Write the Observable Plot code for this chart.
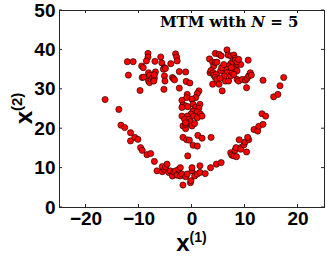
<!DOCTYPE html>
<html>
<head>
<meta charset="utf-8">
<script src="https://cdn.jsdelivr.net/npm/d3@7"></script>
<script src="https://cdn.jsdelivr.net/npm/@observablehq/plot@0.6"></script>
<style>
  html, body { margin: 0; padding: 0; background: #fff; }
  svg { display: block; }
</style>
</head>
<body>
<div id="chart"></div>
<script>
const leftEyeX = [-12.2,-11.1,-12.0,-9.8,-9.5,-9.2,-9.4,-9.1,-8.3,-8.3,-8.6,-8.2,-8.0,-8.2,-8.0,-7.7,-7.4,-7.1,-7.2,-7.0,-6.9,-7.1,-5.9,-5.7,-5.2,-5.4,-5.2,-5.1,-5.3,-5.0,-4.0,-3.7,-3.5,-3.3,-3.1,-2.9,-2.8,-2.4,-2.4,-1.2,-1.1,-0.4];
const leftEyeY = [37.0,37.0,33.6,29.7,35.9,35.5,33.0,33.1,39.1,38.2,37.2,34.2,33.6,32.1,31.7,32.5,32.9,32.8,32.1,37.1,34.4,33.7,38.2,36.7,35.5,35.1,33.4,32.1,30.0,35.3,36.5,33.0,32.7,32.4,39.0,38.2,37.2,34.5,30.3,34.4,32.0,31.6];

const rightEyeX = [3.3,3.9,4.1,4.4,4.7,4.4,5.1,5.5,6.6,6.8,7.3,7.9,8.1,7.7,7.9,8.2,7.3,6.9,6.4,6.6,6.1,6.3,6.9,7.3,7.6,8.2,8.5,8.6,9.2,8.5,8.8,9.5,10.1,10.4,10.6,10.7,11.0,11.2,10.3,13.4,3.4,3.6,4.0,4.1,4.6,4.4,4.7,3.9,5.1,5.7,5.3,5.4,5.6,7.9,7.4,6.0,8.5,8.8];
const rightEyeY = [37.7,36.9,35.9,36.8,36.9,39.1,38.9,38.5,40.0,38.7,38.5,38.7,37.9,37.2,36.3,37.4,36.5,35.9,35.1,34.2,33.4,32.1,32.1,33.4,34.2,35.1,34.7,36.3,36.3,32.5,32.1,32.5,32.3,32.8,37.4,33.4,34.2,33.6,30.4,32.3,34.2,34.8,34.2,33.6,33.8,33.0,32.5,31.3,31.3,29.6,32.8,34.7,35.5,33.8,35.5,36.3,37.0,37.6];

const noseX = [1.3,1.0,0.7,-0.9,-1.0,-1.9,-1.7,-1.2,-0.8,-1.9,0.0,0.2,0.7,1.5,1.3,0.2,1.0,-0.2,0.3,1.3,1.6,1.0,1.9,-0.9,-1.9,-1.4,-0.6,-0.3,-0.9,-1.7,-1.2,0.0,0.5,-1.2,-1.7,-1.0,-0.5,0.2,1.0,1.1,1.9,3.6,-1.2,-0.8];
const noseY = [29.6,28.9,27.9,28.7,27.9,27.2,26.0,25.8,25.6,25.4,27.5,26.2,25.5,26.2,25.2,24.5,24.3,23.7,23.2,23.2,23.7,22.8,23.2,23.2,23.2,22.4,22.4,21.8,21.3,20.7,20.0,20.7,21.3,21.1,17.8,17.2,17.1,15.8,15.6,18.3,17.6,17.8,21.5,13.1];

const mouthX = [-16.4,-13.8,-13.4,-12.7,-11.6,-11.6,-10.8,-10.2,-9.7,-9.4,-8.5,-7.8,-7.1,-6.6,-5.6,-5.3,-5.6,-5.0,-4.7,-4.4,-4.1,-3.7,-3.4,-3.1,-2.8,-2.5,-2.2,-2.2,-1.9,-1.2,-0.9,-0.3,-0.2,-1.7,0.0,0.0,0.5,1.0,1.5,1.5,2.5,3.5,4.6,5.5,7.3,7.7,7.5,7.9,8.4,8.1,8.3,9.2,9.2,8.9,9.8,10.0,10.7,10.5,10.3,11.7,12.4,12.6,13.4,13.2,13.9,15.4,16.2,16.6,17.3];
const mouthY = [27.4,24.9,20.9,20.3,19.0,16.9,17.8,17.3,15.2,14.5,13.4,13.7,11.7,9.3,9.1,9.7,10.4,10.3,11.0,8.9,9.3,8.0,9.0,9.3,8.2,9.7,10.1,8.0,8.5,7.8,8.5,6.3,6.8,5.7,9.3,10.1,8.0,8.5,8.9,10.6,8.6,10.1,11.0,11.4,13.9,13.5,13.3,13.1,12.9,14.5,15.2,15.2,14.8,17.2,15.9,16.6,17.2,17.8,14.1,19.8,19.4,20.6,21.1,23.8,23.2,28.1,28.7,30.9,33.0];

const xTicks = [-20, -10, 0, 10, 20];
const yTicks = [0, 10, 20, 30, 40, 50];

const points = [];
[[leftEyeX, leftEyeY], [rightEyeX, rightEyeY], [noseX, noseY], [mouthX, mouthY]].forEach(([xs, ys]) => {
  xs.forEach((x, i) => points.push({x, y: ys[i]}));
});

const W = 327, H = 259;
const plot = Plot.plot({
  width: W,
  height: H,
  marginLeft: 59,
  marginRight: 3,
  marginTop: 10,
  marginBottom: 52,
  style: {fontFamily: "'Liberation Sans', Arial, sans-serif", fontWeight: "bold", fontSize: "19px", color: "#000", background: "#fff"},
  x: {domain: [-25, 25], ticks: xTicks, tickSize: 0, tickPadding: 4, label: null},
  y: {domain: [0, 50], ticks: yTicks, tickSize: 0, tickPadding: 4, label: null},
  marks: [
    Plot.frame({stroke: "#262626", strokeWidth: 1}),
    Plot.dot(points, {x: "x", y: "y", r: 3.1, fill: "#ff0000", stroke: "#000", strokeWidth: 0.6})
  ]
});

const svg = d3.select(plot);
const sx = plot.scale("x"), sy = plot.scale("y");
const x0 = 59, x1 = W - 3, y0 = 10, y1 = H - 52;
const tl = 3;
const tg = svg.append("g").attr("stroke", "#262626").attr("stroke-width", 1);
xTicks.forEach(v => {
  const px = sx.apply(v);
  tg.append("line").attr("x1", px).attr("x2", px).attr("y1", y1).attr("y2", y1 - tl);
  tg.append("line").attr("x1", px).attr("x2", px).attr("y1", y0).attr("y2", y0 + tl);
});
yTicks.forEach(v => {
  const py = sy.apply(v);
  tg.append("line").attr("y1", py).attr("y2", py).attr("x1", x0).attr("x2", x0 + tl);
  tg.append("line").attr("y1", py).attr("y2", py).attr("x1", x1).attr("x2", x1 - tl);
});

// x label
const xl = svg.append("text")
  .attr("x", (x0 + x1) / 2).attr("y", 251)
  .attr("text-anchor", "middle")
  .attr("font-family", "'Liberation Sans', Arial, sans-serif")
  .attr("font-weight", "bold").attr("font-size", 24).attr("fill", "#000");
xl.append("tspan").text("x");
xl.append("tspan").attr("dy", -9).attr("font-size", 14).text("(1)");

// y label
const yl = svg.append("text")
  .attr("transform", `translate(32,${(y0 + y1) / 2}) rotate(-90)`)
  .attr("text-anchor", "middle")
  .attr("font-family", "'Liberation Sans', Arial, sans-serif")
  .attr("font-weight", "bold").attr("font-size", 24).attr("fill", "#000");
yl.append("tspan").text("x");
yl.append("tspan").attr("dy", -10).attr("font-size", 15).text("(2)");

// title
const tt = svg.append("text")
  .attr("x", 160).attr("y", 27)
  .attr("text-anchor", "start")
  .attr("font-family", "'DejaVu Serif', 'Liberation Serif', serif")
  .attr("font-size", 15).attr("fill", "#000");
tt.append("tspan").attr("font-weight", "bold").text("MTM with ");
tt.append("tspan").attr("font-style", "italic").text("N");
tt.append("tspan").text(" = 5");

document.getElementById("chart").appendChild(plot);
</script>
</body>
</html>
